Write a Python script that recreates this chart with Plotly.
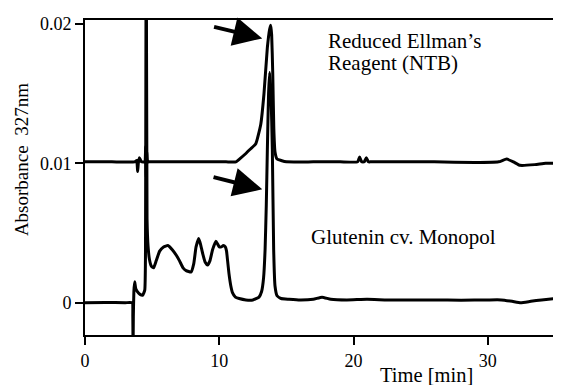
import plotly.graph_objects as go

# ---- data ----
t_glu = [0, 1.5, 3.0, 3.52, 3.56, 3.58, 3.60, 3.64, 3.70, 3.78, 3.9, 4.1, 4.3, 4.45, 4.50, 4.56, 4.62,
         4.70, 4.80, 4.95, 5.11, 5.3, 5.56, 5.85, 6.17, 6.5, 6.8, 7.04, 7.3, 7.53, 7.9, 8.1, 8.27, 8.47, 8.6,
         8.77, 8.95, 9.13, 9.3, 9.5, 9.75, 9.88, 10.0, 10.15, 10.3, 10.45, 10.54, 10.62, 10.72, 10.86, 10.99,
         11.2, 11.48, 11.98, 12.5, 12.96, 13.15, 13.3, 13.41, 13.5, 13.58, 13.67, 13.75, 13.85, 13.95, 14.05,
         14.15, 14.3, 14.6, 15.2, 16.0, 17.0, 17.65, 18.3, 19.5, 21.0, 22.5, 24.0, 26.0, 28.0, 30.0, 31.0,
         31.8, 32.45, 33.2, 34.0, 35.0]
a_glu = [0, 0.00002, 0, 0, -0.001, -0.0035, -0.001, 0.0008, 0.0015, 0.0010, 0.0008, 0.0006, 0.00055, 0.0009,
         0.003, 0.030, 0.006, 0.0040, 0.0031, 0.0026, 0.0025, 0.0030, 0.0037, 0.0040, 0.0041, 0.0038,
         0.0034, 0.0030, 0.0025, 0.0023, 0.0022, 0.0028, 0.0040, 0.0046, 0.0042, 0.0035, 0.0029, 0.0027,
         0.0030, 0.0038, 0.0044, 0.0042, 0.0040, 0.0040, 0.0041, 0.0040, 0.0037, 0.0030, 0.0021, 0.0012,
         0.0007, 0.0004, 0.0003, 0.0002, 0.0002, 0.0004, 0.0008, 0.0018, 0.0038, 0.0070, 0.0110, 0.0150,
         0.0165, 0.0150, 0.0110, 0.0038, 0.0012, 0.0005, 0.0003, 0.00025, 0.0002, 0.00025, 0.0004, 0.00025,
         0.0002, 0.00025, 0.0002, 0.0002, 0.0002, 0.00018, 0.0002, 0.0002, 0.0001, 0.0, 0.0001, 0.0002, 0.0003]

t_ntb = [0, 2.0, 3.7, 3.85, 3.92, 3.97, 4.05, 4.2, 4.45, 4.52, 4.56, 4.60, 4.66, 4.8, 7.0, 9.0, 10.5, 11.24,
         11.5, 11.98, 12.3, 12.72, 13.09, 13.33, 13.58, 13.75, 13.83, 13.9, 13.98, 14.06, 14.15, 14.3, 14.6,
         15.0, 17.0, 19.0, 20.3, 20.45, 20.6, 20.8, 20.95, 21.1, 21.3, 23.0, 26.0, 29.0, 30.8, 31.4, 31.9,
         32.4, 33.5, 34.3, 35.0]
a_ntb = [0.0101, 0.0101, 0.0101, 0.0102, 0.0094, 0.0100, 0.0104, 0.0101, 0.0101, 0.0112, 0.0090, 0.0108,
         0.0101, 0.0101, 0.0101, 0.0101, 0.0101, 0.0101, 0.0103, 0.0107, 0.0110, 0.0114, 0.0128, 0.0150,
         0.0183, 0.0196, 0.0199, 0.0192, 0.0165, 0.0125, 0.0108, 0.0103, 0.0102, 0.0101, 0.0101, 0.0101,
         0.0101, 0.01045, 0.0101, 0.0101, 0.0104, 0.0101, 0.0101, 0.0101, 0.0101, 0.01005, 0.0101, 0.0103,
         0.0101, 0.00985, 0.0099, 0.0100, 0.0100]

x_ticks = [0, 10, 20, 30]
y_ticks = [0, 0.01, 0.02]
y_tick_labels = ["0", "0.01", "0.02"]

# arrows: (tip_x, tip_y, tail_x, tail_y) in data units
arrows = [(13.2, 0.01895, 9.5, 0.0198),
          (13.2, 0.00813, 9.46, 0.00903)]

assert len(t_glu) == len(a_glu) and len(t_ntb) == len(a_ntb)

FONT = "Liberation Serif, Times New Roman, serif"
fig = go.Figure()
fig.add_trace(go.Scatter(x=t_glu, y=a_glu, mode="lines",
                         line=dict(color="black", width=3, shape="spline", smoothing=0.4),
                         showlegend=False, hoverinfo="skip"))
fig.add_trace(go.Scatter(x=t_ntb, y=a_ntb, mode="lines",
                         line=dict(color="black", width=3, shape="spline", smoothing=0.4),
                         showlegend=False, hoverinfo="skip"))

for tx, ty, ax, ay in arrows:
    fig.add_annotation(x=tx, y=ty, ax=ax, ay=ay, xref="x", yref="y", axref="x", ayref="y",
                       text="", showarrow=True, arrowhead=2, arrowwidth=4, arrowsize=1.45,
                       arrowcolor="black", standoff=0)

txt = dict(family=FONT, size=21, color="black")
fig.add_annotation(x=0.5127, y=0.933, xref="paper", yref="paper", text="Reduced Ellman\u2019s",
                   showarrow=False, xanchor="left", yanchor="middle", font=txt)
fig.add_annotation(x=0.5127, y=0.864, xref="paper", yref="paper", text="Reagent (NTB)",
                   showarrow=False, xanchor="left", yanchor="middle", font=txt)
fig.add_annotation(x=0.4767, y=0.312, xref="paper", yref="paper", text="Glutenin cv. Monopol",
                   showarrow=False, xanchor="left", yanchor="middle", font=txt)
fig.add_annotation(x=-0.1335, y=0.556, xref="paper", yref="paper", text="Absorbance\u00a0\u00a0327nm",
                   showarrow=False, textangle=-90, xanchor="center", yanchor="middle",
                   font=dict(family=FONT, size=19, color="black"))
fig.add_annotation(x=0.7267, y=-0.128, xref="paper", yref="paper", text="Time [min]",
                   showarrow=False, xanchor="center", yanchor="middle",
                   font=dict(family=FONT, size=20.5, color="black"))

axis_common = dict(showgrid=False, zeroline=False, showline=True, linecolor="black", linewidth=2,
                   mirror=True, ticks="outside", ticklen=8, tickwidth=2, tickcolor="black",
                   tickfont=dict(family=FONT, size=18, color="black"))
fig.update_xaxes(range=[0, 35], tickmode="array", tickvals=x_ticks,
                 ticktext=[str(v) for v in x_ticks], **axis_common)
fig.update_yaxes(range=[-0.002315, 0.02027], tickmode="array", tickvals=y_ticks,
                 ticktext=y_tick_labels, **axis_common)

# page body has an 8px default margin, so the figure is 8px smaller and margins shifted
fig.update_layout(width=553, height=377, margin=dict(l=77, r=4, t=12, b=50),
                  paper_bgcolor="white", plot_bgcolor="white", font=dict(family=FONT, color="black"))

fig.write_html("out.html")
